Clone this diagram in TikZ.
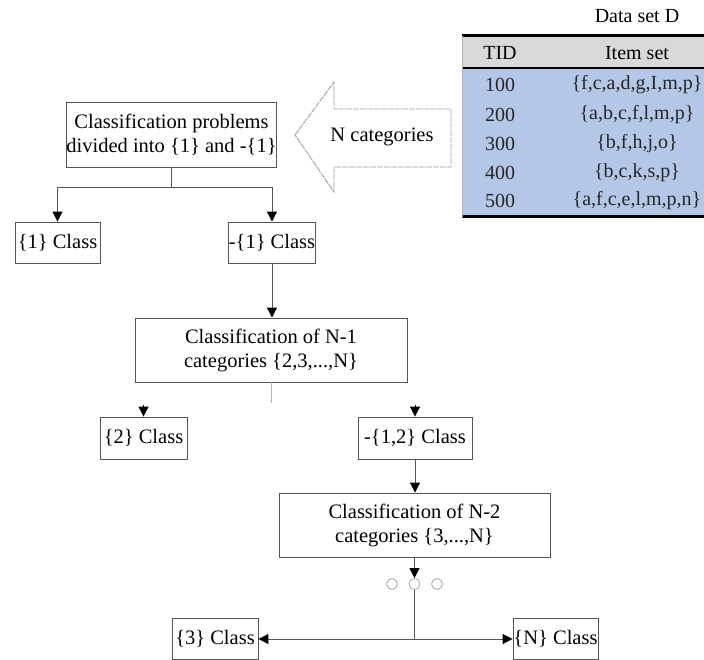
\documentclass[tikz,border=0pt]{standalone}
\usepackage{fontspec}
\setmainfont{Liberation Serif}
\usetikzlibrary{arrows.meta}
\definecolor{tblue}{HTML}{B4C7E7}
\definecolor{tgray}{HTML}{D9D9D9}
\definecolor{tline}{HTML}{555555}
\definecolor{ttext}{HTML}{262626}
\begin{document}
\begin{tikzpicture}[x=1pt,y=-1pt,
  box/.style={draw=tline,line width=0.9pt,inner sep=0pt,align=center,font=\fontsize{20.5}{24}\selectfont},
  arr/.style={-{Triangle[width=10pt,length=10pt,color=black]},line width=1pt,tline},
  conn/.style={line width=1pt,tline},
  tcell/.style={inner sep=0pt,text=ttext,font=\fontsize{20}{22}\selectfont},
  dots/.style={circle,draw=gray!70,line width=0.8pt,minimum size=11pt,inner sep=0pt}]
\useasboundingbox (0,0) rectangle (704,660);
% table
\fill[tgray] (462,36) rectangle (704,68);
\fill[tblue] (462,68) rectangle (704,216);
\draw[line width=3pt] (462,36) -- (704,36);
\draw[line width=2.5pt] (462,68) -- (704,68);
\draw[line width=3pt] (462,217) -- (704,217);
\draw[gray!60,line width=0.5pt] (462,36) -- (462,217);
\node[tcell,text=black] (title) at (637,16) {Data set D};
\node[tcell,text=black] (h1) at (500,53) {TID};
\node[tcell,text=black] (h2) at (637,53) {Item set};
\node[tcell] (r1a) at (500,85) {100};
\node[tcell] (r1b) at (637,85) {\{f,c,a,d,g,I,m,p\}};
\node[tcell] (r2a) at (500,115) {200};
\node[tcell] (r2b) at (637,115) {\{a,b,c,f,l,m,p\}};
\node[tcell] (r3a) at (500,144) {300};
\node[tcell] (r3b) at (637,144) {\{b,f,h,j,o\}};
\node[tcell] (r4a) at (500,173) {400};
\node[tcell] (r4b) at (637,173) {\{b,c,k,s,p\}};
\node[tcell] (r5a) at (500,201) {500};
\node[tcell] (r5b) at (637,201) {\{a,f,c,e,l,m,p,n\}};
% big hollow arrow
\draw[gray!75,line width=0.9pt,dash pattern=on 6pt off 1pt,line join=miter]
  (295,135) -- (334,82) -- (334,109) -- (451,109) -- (451,167) -- (334,167) -- (334,192) -- cycle;
\node[font=\fontsize{20.5}{24}\selectfont,inner sep=0pt] (ncat) at (382,137) {N categories};
% boxes
\node[box,minimum width=209pt,minimum height=65pt] (b1) at (171.5,134.5) {Classification problems\\divided into \{1\} and -\{1\}};
\node[box,minimum width=85pt,minimum height=41pt] (c1) at (57.5,242.5) {\{1\} Class};
\node[box,minimum width=86pt,minimum height=41pt] (nc1) at (272,242.5) {-\{1\} Class};
\node[box,minimum width=272pt,minimum height=64pt] (b2) at (271,350) {Classification of N-1\\categories \{2,3,...,N\}};
\node[box,minimum width=87pt,minimum height=42pt] (c2) at (143.5,438) {\{2\} Class};
\node[box,minimum width=114pt,minimum height=42pt] (nc12) at (415,438) {-\{1,2\} Class};
\node[box,minimum width=271pt,minimum height=64pt] (b3) at (414.5,525) {Classification of N-2\\categories \{3,...,N\}};
\node[box,minimum width=86pt,minimum height=41pt] (c3) at (215,639) {\{3\} Class};
\node[box,minimum width=85pt,minimum height=41pt] (cN) at (555.5,639) {\{N\} Class};
% circles
\node[dots] (o1) at (392,584) {};
\node[dots] (o2) at (414.5,584) {};
\node[dots] (o3) at (437,584) {};
% connectors
\draw[conn] (b1.south) -- ++(0,20) coordinate (j1);
\draw[arr] (j1) -| (c1.north);
\draw[arr] (j1) -| (nc1.north);
\draw[arr] (nc1.south) -- (nc1.south |- b2.north);
\draw[gray!60,line width=0.8pt] (b2.south) -- ++(0,21) coordinate (j2);
\draw[arr,black] ([yshift=12pt]c2.north) -- (c2.north);
\draw[arr,black] ([yshift=12pt]nc12.north) -- (nc12.north);
\draw[arr] (nc12.south) -- (nc12.south |- b3.north);
\draw[arr] (b3.south) -- (o2.north);
\draw[conn] (o2.south) -- (o2.south |- c3.east) coordinate (j3);
\draw[arr] (j3) -- (c3.east);
\draw[arr] (j3) -- (cN.west);
\end{tikzpicture}
\end{document}
